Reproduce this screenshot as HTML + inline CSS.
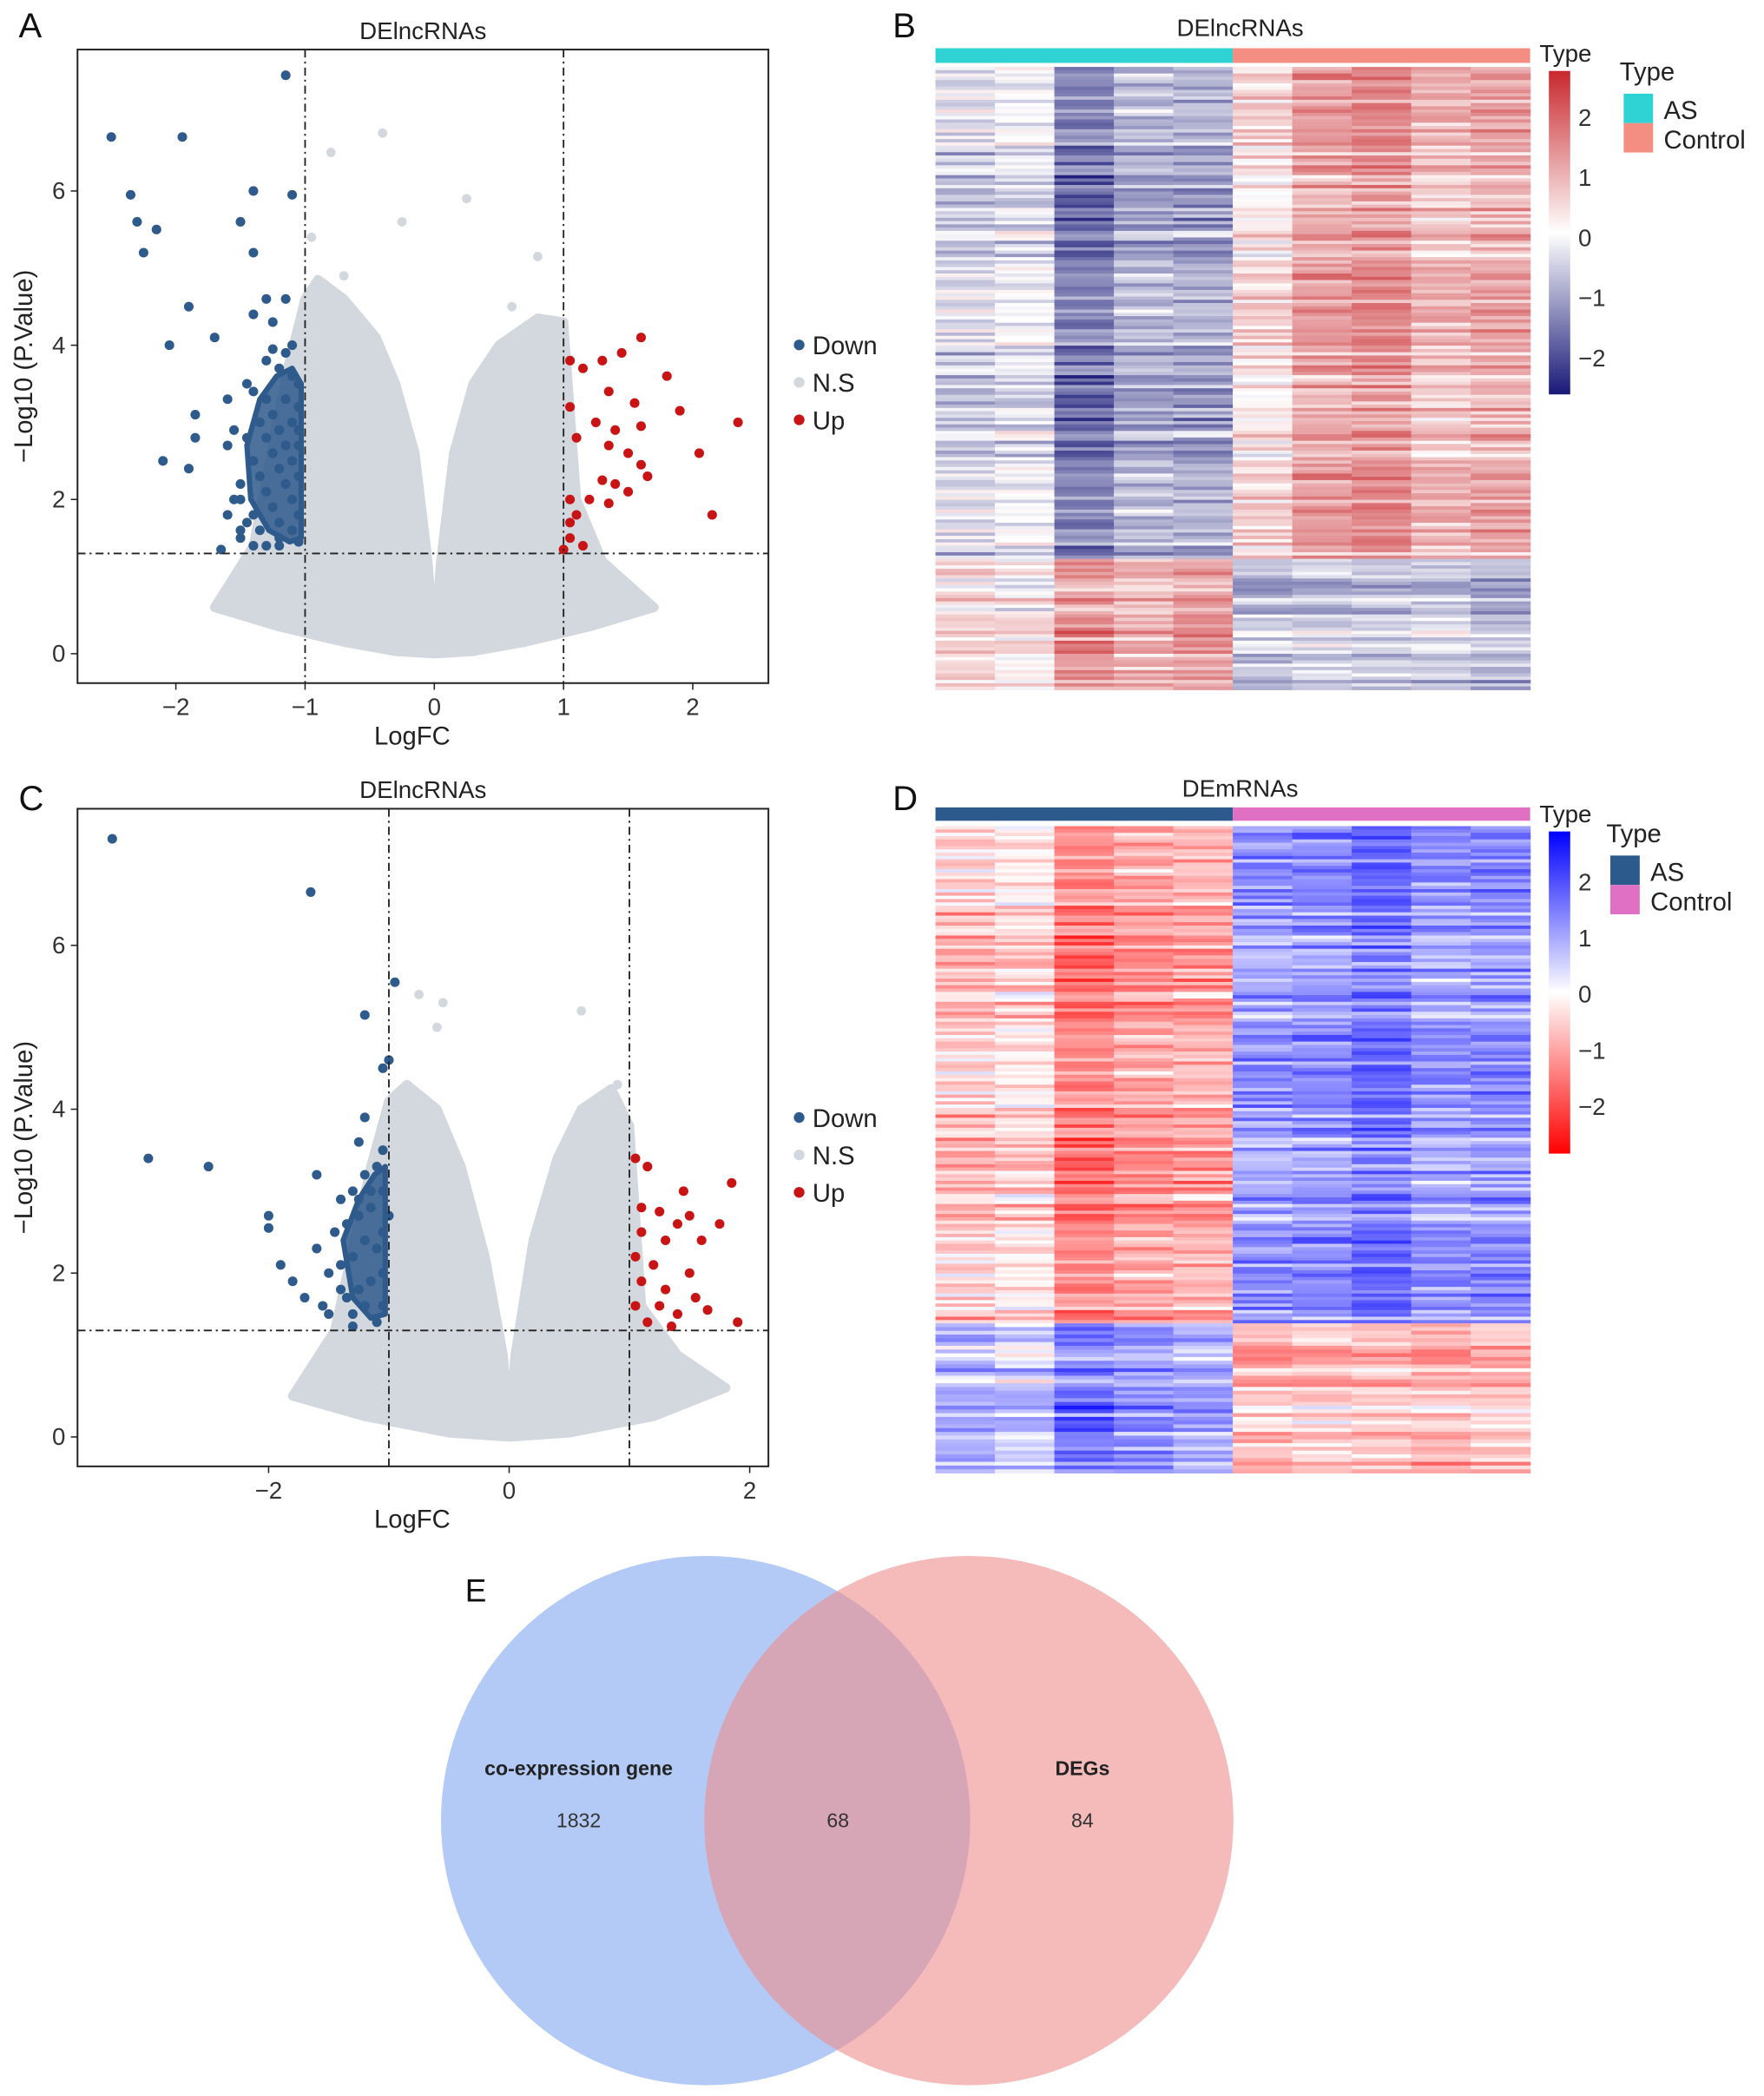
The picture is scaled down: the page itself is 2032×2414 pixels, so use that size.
<!DOCTYPE html>
<html><head><meta charset="utf-8"><style>
html,body{margin:0;padding:0;background:#fff}
svg{display:block;font-family:"Liberation Sans",Arial,sans-serif}
</style></head><body>
<svg id="fig" width="2032" height="2414" viewBox="0 0 1320 1568" xmlns="http://www.w3.org/2000/svg">
<rect width="1320" height="1568" fill="#fff"/>
<g id="pA"></g>
<g id="pC"></g>
<g id="pB"></g>
<g id="pD"></g>
<g id="venn">
  <circle cx="528" cy="1362" r="198" fill="#7ea6ee" fill-opacity="0.6"/>
  <circle cx="725" cy="1362" r="198" fill="#ee8c8c" fill-opacity="0.6"/>
  <text x="433" y="1328" font-size="15" font-weight="bold" text-anchor="middle" fill="#222">co-expression gene</text>
  <text x="433" y="1367" font-size="15" text-anchor="middle" fill="#333">1832</text>
  <text x="627" y="1367" font-size="15" text-anchor="middle" fill="#333">68</text>
  <text x="810" y="1328" font-size="15" font-weight="bold" text-anchor="middle" fill="#222">DEGs</text>
  <text x="810" y="1367" font-size="15" text-anchor="middle" fill="#333">84</text>
  <text x="348" y="1198" font-size="24" fill="#111">E</text>
</g>
<text x="14" y="28" font-size="26" fill="#111">A</text>
<text x="668" y="28" font-size="26" fill="#111">B</text>
<text x="14" y="606" font-size="26" fill="#111">C</text>
<text x="668" y="606" font-size="26" fill="#111">D</text>
</svg>
<script>
// ---------- Volcano A data ----------
const aDownX=[-2.5,-2.35,-2.3,-2.25,-2.15,-1.95,-1.4,-1.15,-1.1,-1.5,-1.4,-1.9,-2.05,-1.7,-1.4,-1.3,-1.15,-1.25,-1.85,-1.85,-2.1,-1.9,-1.6,-1.5,-1.65,-1.4,-1.2,
 -1.3,-1.2,-1.1,-1.05,-1.4,-1.3,-1.15,-1.05,-1.25,-1.35,-1.1,-1.2,-1.45,-1.3,-1.15,-1.05,-1.25,-1.4,-1.1,-1.2,-1.35,-1.05,-1.15,-1.3,-1.5,-1.1,-1.25,-1.4,-1.05,-1.2,-1.35,-1.1,-1.5,-1.2,-1.05,-1.3,-1.15,-1.45,-1.1,-1.25,-1.05,-1.6,-1.55,-1.55,-1.6,-1.5,-1.45];
const aDownY=[6.7,5.95,5.6,5.2,5.5,6.7,6.0,7.5,5.95,5.6,5.2,4.5,4.0,4.1,4.4,4.6,4.6,4.3,3.1,2.8,2.5,2.4,2.7,2.2,1.35,1.4,1.4,
 3.8,3.7,3.6,3.5,3.4,3.3,3.3,3.2,3.1,3.0,3.0,2.9,2.8,2.8,2.7,2.7,2.6,2.5,2.5,2.4,2.3,2.3,2.2,2.1,2.0,2.0,1.9,1.8,1.8,1.7,1.6,1.6,1.5,1.5,1.45,1.4,3.9,3.5,4.0,3.95,2.9,3.3,2.9,2.0,1.8,1.6,1.7];
const aBlobX=[-1.45,-1.35,-1.22,-1.1,-1.03,-1.03,-1.12,-1.28,-1.42];
const aBlobY=[2.7,3.3,3.6,3.7,3.5,1.5,1.45,1.6,2.0];
const aUpX=[1.05,1.15,1.3,1.35,1.6,1.45,1.8,1.55,1.05,1.25,1.4,1.6,1.9,2.35,1.1,1.35,1.5,2.05,1.6,1.3,1.4,1.5,1.65,1.05,1.2,1.35,2.15,1.05,1.1,1.05,1.15,1.0];
const aUpY=[3.8,3.7,3.8,3.4,4.1,3.9,3.6,3.25,3.2,3.0,2.9,2.95,3.15,3.0,2.8,2.7,2.6,2.6,2.45,2.25,2.2,2.1,2.3,2.0,2.0,1.95,1.8,1.7,1.8,1.5,1.4,1.35];
const aCloudX=[-1.7,-1.4,-1.15,-1.0,-0.9,-0.7,-0.45,-0.3,-0.15,-0.05,0,0.05,0.15,0.3,0.5,0.8,1.0,1.1,1.3,1.7,1.2,0.7,0.3,0,-0.3,-0.7,-1.2];
const aCloudY=[0.6,1.4,3.6,4.6,4.85,4.6,4.1,3.5,2.6,1.2,0.1,1.2,2.6,3.5,4.0,4.35,4.3,2.0,1.2,0.6,0.35,0.15,0.03,0,0.03,0.15,0.35];
const aNsX=[-0.4,-0.8,-0.25,0.25,0.8,-0.95,0.6,-0.7];
const aNsY=[6.75,6.5,5.6,5.9,5.15,5.4,4.5,4.9];
const aXTicks=[-2,-1,0,1,2], aXTickLabels=["\u22122","\u22121","0","1","2"];
const aYTicks=[0,2,4,6], aYTickLabels=["0","2","4","6"];
// ---------- Volcano C data ----------
const cDownX=[-3.3,-1.65,-0.95,-1.2,-1.0,-3.0,-2.5,-1.6,-2.0,-2.0,-1.9,-1.8,-1.7,-1.5,-1.3,-1.2,-1.25,
 -1.05,-1.1,-1.2,-1.3,-1.4,-1.05,-1.15,-1.25,-1.35,-1.45,-1.05,-1.1,-1.2,-1.3,-1.4,-1.5,-1.05,-1.15,-1.25,-1.35,-1.05,-1.2,-1.3,-1.1,-1.6,-1.05,-1.15,-1.25,-1.0,-1.4,-1.55];
const cDownY=[7.3,6.65,5.55,5.15,4.6,3.4,3.3,3.2,2.7,2.55,2.1,1.9,1.7,1.5,1.35,3.9,3.6,
 3.5,3.3,3.2,3.0,2.9,3.0,2.8,2.7,2.6,2.5,2.5,2.3,2.4,2.2,2.1,2.0,2.0,1.9,1.8,1.7,1.6,1.6,1.5,1.4,2.3,4.5,3.0,2.9,2.7,1.8,1.6];
const cBlobX=[-1.38,-1.25,-1.12,-1.03,-1.03,-1.15,-1.3];
const cBlobY=[2.4,2.9,3.2,3.3,1.5,1.45,1.7];
const cUpX=[1.05,1.15,1.45,1.85,1.1,1.25,1.4,1.5,1.75,1.1,1.3,1.6,1.05,1.2,1.5,1.1,1.3,1.55,1.05,1.25,1.4,1.65,1.9,1.15,1.35];
const cUpY=[3.4,3.3,3.0,3.1,2.8,2.75,2.6,2.7,2.6,2.5,2.4,2.4,2.2,2.1,2.0,1.9,1.8,1.7,1.6,1.6,1.5,1.55,1.4,1.4,1.35];
const cCloudX=[-1.8,-1.45,-1.15,-1.0,-0.85,-0.6,-0.4,-0.2,-0.05,0,0.05,0.2,0.4,0.6,0.85,1.0,1.1,1.4,1.8,1.2,0.5,0,-0.5,-1.2];
const cCloudY=[0.5,1.3,3.3,4.1,4.3,4.0,3.3,2.2,1.0,0.1,1.0,2.4,3.4,4.0,4.25,3.8,1.6,1.0,0.6,0.25,0.05,0,0.05,0.25];
const cNsX=[-0.75,-0.55,0.6,-0.6,0.9,0.85];
const cNsY=[5.4,5.3,5.2,5.0,4.3,4.1];
const cXTicks=[-2,0,2], cXTickLabels=["\u22122","0","2"];
const cYTicks=[0,2,4,6], cYTickLabels=["0","2","4","6"];
// ---------- Heatmap data ----------
const rowOffsets=[0.3,-0.5,0.7,-0.2,0.1,-0.7,0.5,-0.1,0.4,-0.6,0.2,0.8,-0.3,0.0,0.6,-0.4,0.3,-0.8,0.1,0.5,-0.2,0.7,-0.5,0.2,-0.1,0.4,-0.6,0.6,0.0,-0.3,0.8,-0.4,0.2,-0.7,0.5,0.1,-0.2,0.3,-0.5,0.7,-0.1,0.4,0.0,-0.6,0.2,0.6,-0.3,0.1,-0.8,0.5,-0.4,0.3,0.8,-0.2,0.0,-0.5,0.4,0.6,-0.1,0.2,-0.7];
const bTopBase=[-0.5,-0.3,-1.5,-0.9,-1.0,0.3,1.0,1.2,0.7,0.9];
const bBotBase=[0.4,0.2,1.2,0.8,1.1,-0.7,-0.6,-0.6,-0.5,-0.8];
const dTopBase=[-0.6,-0.4,-1.3,-1.0,-0.9,0.9,1.0,1.3,0.9,1.0];
const dBotBase=[0.7,0.5,1.3,1.0,0.8,-0.7,-0.6,-0.6,-0.7,-0.6];
const cbTicks=[2,1,0,-1,-2], cbTickLabels=["2","1","0","\u22121","\u22122"];

const NS="http://www.w3.org/2000/svg";
function mk(parent,tag,attrs,text){const e=document.createElementNS(NS,tag);for(const k in attrs)e.setAttribute(k,attrs[k]);if(text!==undefined)e.textContent=text;parent.appendChild(e);return e;}

function volcano(g,box,sx,sy,d,title){
  const X=v=>box.x0+(v-sx.v0)*sx.k, Y=v=>box.y0-(v-sy.v0)*sy.k;
  let e;
  e=mk(g,'text',{x:(box.L+box.R)/2,y:box.T-8,'font-size':18,'text-anchor':'middle',fill:'#222'},title);
  
  
  e=mk(g,'polygon',{points:d.cx.map((v,i)=>X(v)+','+Y(d.cy[i])).join(' '),fill:'#d3d8de',stroke:'#d3d8de','stroke-width':7,'stroke-linejoin':'round'});
  
  
  d.nx.forEach((v,i)=>{const p=mk(g,'circle',{cx:X(v),cy:Y(d.ny[i]),r:3.5,fill:'#d3d8de'});
    
    });
  e=mk(g,'polygon',{points:d.bx.map((v,i)=>X(v)+','+Y(d.by[i])).join(' '),fill:'#2e5a8c','fill-opacity':0.85,stroke:'#2e5a8c','stroke-width':4,'stroke-linejoin':'round'});
  
  
  d.dx.forEach((v,i)=>{const p=mk(g,'circle',{cx:X(v),cy:Y(d.dy[i]),r:3.6,fill:'#2e5a8c'});
    
    });
  d.ux.forEach((v,i)=>{const p=mk(g,'circle',{cx:X(v),cy:Y(d.uy[i]),r:3.6,fill:'#c81414'});
    
    });
  [-1,1].forEach(v=>{const l=mk(g,'line',{x1:X(v),x2:X(v),y1:box.T,y2:box.B,stroke:'#222','stroke-width':1.2,'stroke-dasharray':'6,3,1.5,3'});
    
    });
  e=mk(g,'line',{x1:box.L,x2:box.R,y1:Y(1.3),y2:Y(1.3),stroke:'#222','stroke-width':1.2,'stroke-dasharray':'6,3,1.5,3'});
  
  
  e=mk(g,'rect',{x:box.L,y:box.T,width:box.R-box.L,height:box.B-box.T,fill:'none',stroke:'#222','stroke-width':1.3});
  
  
  d.xt.forEach((v,i)=>{mk(g,'line',{x1:X(v),x2:X(v),y1:box.B,y2:box.B+5,stroke:'#222'});
    const t=mk(g,'text',{x:X(v),y:box.B+24,'font-size':18,'text-anchor':'middle',fill:'#333'},d.xl[i]);
    
    });
  d.yt.forEach((v,i)=>{mk(g,'line',{x1:box.L-5,x2:box.L,y1:Y(v),y2:Y(v),stroke:'#222'});
    const t=mk(g,'text',{x:box.L-9,y:Y(v)+6,'font-size':18,'text-anchor':'end',fill:'#333'},d.yl[i]);
    
    });
  e=mk(g,'text',{x:(box.L+box.R)/2-8,y:box.B+46,'font-size':19,'text-anchor':'middle',fill:'#222'},'LogFC');
  
  
  const cy=(box.T+box.B)/2;
  e=mk(g,'text',{x:24,y:cy,'font-size':19,'text-anchor':'middle',fill:'#222',transform:`rotate(-90 24 ${cy})`},'\u2212Log10 (P.Value)');
  
  
  const leg=[['Down','#2e5a8c'],['N.S','#d3d8de'],['Up','#c81414']];
  leg.forEach((l,i)=>{const yy=d.legY+i*28;
    const c=mk(g,'circle',{cx:598,cy:yy,r:4,fill:l[1]});
    
    
    const t=mk(g,'text',{x:608,y:yy+7,'font-size':19,fill:'#222'},l[0]);
    
    });
}
volcano(document.getElementById('pA'),{L:58,R:575,T:37,B:511,x0:325,y0:489},{v0:0,k:96.7},{v0:0,k:57.7},
 {dx:aDownX,dy:aDownY,bx:aBlobX,by:aBlobY,ux:aUpX,uy:aUpY,cx:aCloudX,cy:aCloudY,nx:aNsX,ny:aNsY,xt:aXTicks,xl:aXTickLabels,yt:aYTicks,yl:aYTickLabels,legY:258},'DElncRNAs');
volcano(document.getElementById('pC'),{L:58,R:575,T:605,B:1097,x0:381,y0:1075},{v0:0,k:90},{v0:0,k:61.3},
 {dx:cDownX,dy:cDownY,bx:cBlobX,by:cBlobY,ux:cUpX,uy:cUpY,cx:cCloudX,cy:cCloudY,nx:cNsX,ny:cNsY,xt:cXTicks,xl:cXTickLabels,yt:cYTicks,yl:cYTickLabels,legY:836},'DElncRNAs');

function lerp(a,b,t){return a.map((v,i)=>Math.round(v+(b[i]-v)*t));}
function cmap(v,pos,neg){const t=Math.max(-1,Math.min(1,v/2.5));const c=t>=0?lerp([255,255,255],pos,t):lerp([255,255,255],neg,-t);return `rgb(${c[0]},${c[1]},${c[2]})`;}

function heat(g,o){
  let e;
  e=mk(g,'text',{x:928,y:o.titleY,'font-size':18,'text-anchor':'middle',fill:'#222'},o.title);
  
  
  const L=700,R=1145,cw=(R-L)/10;
  e=mk(g,'rect',{x:L,y:o.barT,width:cw*5,height:o.barH,fill:o.asCol});
  
  
  e=mk(g,'rect',{x:L+cw*5,y:o.barT,width:cw*5,height:o.barH,fill:o.ctCol});
  
  
  const n=rowOffsets.length;
  const nTop=150,nBot=40;
  const hTop=(o.split-o.T)/nTop,hBot=(o.B-o.split)/nBot;
  for(let c=0;c<10;c++){
    for(let r=0;r<nTop;r++){
      const v=o.top[c]+0.7*rowOffsets[(r*7)%n]+0.5*rowOffsets[(r*3+c*11)%n];
      const cell=mk(g,'rect',{x:L+c*cw,y:o.T+r*hTop,width:cw+0.4,height:hTop+0.3,fill:cmap(v,o.pos,o.neg)});
      
      
    }
    for(let r=0;r<nBot;r++){
      const v=o.bot[c]+0.7*rowOffsets[(r*5+3)%n]+0.5*rowOffsets[(r*13+c*5)%n];
      const cell=mk(g,'rect',{x:L+c*cw,y:o.split+r*hBot,width:cw+0.4,height:hBot+0.3,fill:cmap(v,o.pos,o.neg)});
      
      
    }
  }
  const gid='grad'+o.id;
  const defs=mk(g,'defs',{});
  const lg=mk(defs,'linearGradient',{id:gid,x1:0,y1:0,x2:0,y2:1});
  const top=`rgb(${o.pos.join(',')})`,bot=`rgb(${o.neg.join(',')})`;
  mk(lg,'stop',{offset:'0',"stop-color":top});mk(lg,'stop',{offset:'0.5',"stop-color":'#fff'});mk(lg,'stop',{offset:'1',"stop-color":bot});
  e=mk(g,'rect',{x:1159,y:o.cbT,width:16,height:o.cbB-o.cbT,fill:`url(#${gid})`});
  
  
  const cbY=v=>o.cbMid-v*o.cbK;
  cbTicks.forEach((v,i)=>{const t=mk(g,'text',{x:1181,y:cbY(v)+7,'font-size':18,fill:'#333'},cbTickLabels[i]);
    
    });
  e=mk(g,'text',{x:1152,y:o.cbT-7,'font-size':18,fill:'#222'},'Type');
  
  
  e=mk(g,'text',{x:o.legX-3,y:o.legY,'font-size':19,fill:'#222'},'Type');
  
  
  [['AS',o.asCol],['Control',o.ctCol]].forEach((l,i)=>{const yy=o.legY+10+i*22;
    const s=mk(g,'rect',{x:o.legX,y:yy,width:22,height:22,fill:l[1]});
    
    
    const t=mk(g,'text',{x:o.legX+30,y:yy+19,'font-size':19,fill:'#222'},l[0]);
    
    });
}
heat(document.getElementById('pB'),{id:'B',title:'DElncRNAs',titleY:27,barT:36,barH:11,T:50,split:418,B:516,asCol:'#2fd3d3',ctCol:'#f58e82',
 top:bTopBase,bot:bBotBase,pos:[200,40,45],neg:[25,25,120],cbT:53,cbB:295,cbMid:177,cbK:45,legX:1215,legY:60});
heat(document.getElementById('pD'),{id:'D',title:'DEmRNAs',titleY:596,barT:604,barH:10,T:618,split:990,B:1102,asCol:'#2c5a8c',ctCol:'#e070c4',
 top:dTopBase,bot:dBotBase,pos:[0,0,255],neg:[255,0,0],cbT:622,cbB:863,cbMid:743,cbK:42,legX:1205,legY:630});
</script>
</body></html>
